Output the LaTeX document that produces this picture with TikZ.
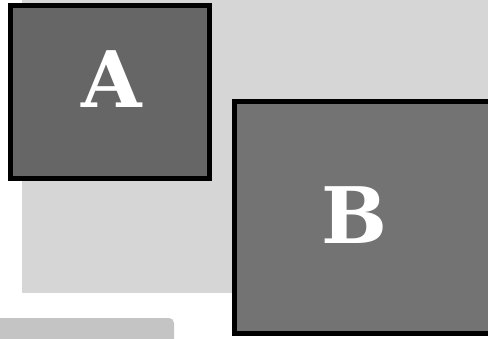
\documentclass[tikz,border=0pt]{standalone}
\usepackage{xcolor}
\definecolor{backgray}{RGB}{214,214,214}
\definecolor{tabgray}{RGB}{196,196,196}
\definecolor{panelA}{RGB}{102,102,102}
\definecolor{panelB}{RGB}{115,115,115}
\usepackage{fontspec}
\newfontfamily\letterfont{DejaVu Serif}
\usepackage{tikz}

\begin{document}
\begin{tikzpicture}[x=1pt, y=-1pt,
    panel/.style={draw=black, line width=5pt, inner sep=0pt},
    letter/.style={text=white, inner sep=0pt, font=\letterfont\bfseries\fontsize{78}{78}\selectfont}]
  \useasboundingbox (0,0) rectangle (488,338);
  \clip (0,0) rectangle (488,338);
  \fill[backgray] (22,-10) rectangle (500,292.5);
  \fill[tabgray, rounded corners=5pt] (-10,318) rectangle (174,350);
  \draw[panel, fill=panelA] (10.8,5.8) rectangle (209.3,178.8);
  \draw[panel, fill=panelB] (234.2,101.5) rectangle (520,333.7);
  \node[letter] (labelA) at (111.5,79.5) {A};
  \node[letter] (labelB) at (354.5,215.5) {B};
\end{tikzpicture}
\end{document}
